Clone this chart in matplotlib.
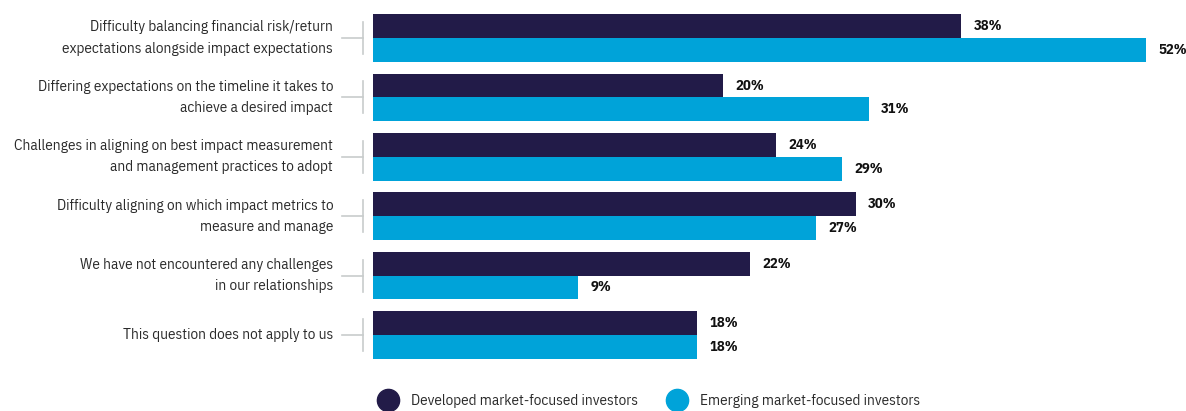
import matplotlib
matplotlib.use("Agg")
import matplotlib.pyplot as plt
import matplotlib.transforms as mtransforms
from matplotlib.lines import Line2D

# ── Data ──────────────────────────────────────────────────────────────────────
categories = [
    "Difficulty balancing financial risk/return\nexpectations alongside impact expectations",
    "Differing expectations on the timeline it takes to\nachieve a desired impact",
    "Challenges in aligning on best impact measurement\nand management practices to adopt",
    "Difficulty aligning on which impact metrics to\nmeasure and manage",
    "We have not encountered any challenges\nin our relationships",
    "This question does not apply to us",
]
developed = [38, 20, 24, 30, 22, 18]
emerging = [52, 31, 29, 27, 9, 18]
series_names = ["Developed market-focused investors", "Emerging market-focused investors"]

# ── Style ─────────────────────────────────────────────────────────────────────
FONT = ["IBM Plex Sans Condensed", "DejaVu Sans"]
plt.rcParams["font.family"] = FONT
DARK = "#221b48"
LIGHT = "#00a3d9"
TEXT = "#2b2b2b"
RULE = "#c8cccc"

X_MIN, X_MAX = -6.5, 55.0
BAR_H = 0.40

fig = plt.figure(figsize=(11.86, 4.11), dpi=100)
ax = fig.add_axes([373 / 1186, 1 - 364.7 / 411, 1 - 373 / 1186, 356.4 / 411])

for i, (d, e) in enumerate(zip(developed, emerging)):
    # bars run from the left edge of the plot to their value
    ax.barh(i - BAR_H / 2, d - X_MIN, left=X_MIN, height=BAR_H, color=DARK)
    ax.barh(i + BAR_H / 2, e - X_MIN, left=X_MIN, height=BAR_H, color=LIGHT)
    ax.text(d + 0.95, i - BAR_H / 2, f"{d}%", ha="left", va="center",
            fontsize=10.5, fontweight="bold", color="#111111")
    ax.text(e + 0.95, i + BAR_H / 2, f"{e}%", ha="left", va="center",
            fontsize=10.5, fontweight="bold", color="#111111")

ax.set_xlim(X_MIN, X_MAX)
ax.set_ylim(len(categories) - 0.5, -0.5)
ax.axis("off")

# category labels with small bracket connectors
trans = mtransforms.blended_transform_factory(ax.transAxes, ax.transData)
for i, lab in enumerate(categories):
    ax.text(-0.049, i, lab, transform=trans, ha="right", va="center",
            fontsize=11, color=TEXT, linespacing=1.65)
    ax.plot([-0.038, -0.0125], [i, i], transform=trans, color=RULE,
            lw=1.2, clip_on=False)
    ax.plot([-0.0125, -0.0125], [i - 0.27, i + 0.27], transform=trans,
            color=RULE, lw=1.2, clip_on=False)

handles = [
    Line2D([0], [0], marker="o", linestyle="none", markersize=16,
           markerfacecolor=DARK, markeredgecolor=DARK, label=series_names[0]),
    Line2D([0], [0], marker="o", linestyle="none", markersize=16,
           markerfacecolor=LIGHT, markeredgecolor=LIGHT, label=series_names[1]),
]
fig.legend(handles=handles, loc="center left", ncol=2, frameon=False,
           bbox_to_anchor=(380.5 / 1186, 1 - 401 / 411), fontsize=11,
           handlelength=1.0, handletextpad=1.0, columnspacing=2.05,
           borderpad=0, borderaxespad=0, labelcolor=TEXT)

fig.savefig("out.png", dpi=100)
